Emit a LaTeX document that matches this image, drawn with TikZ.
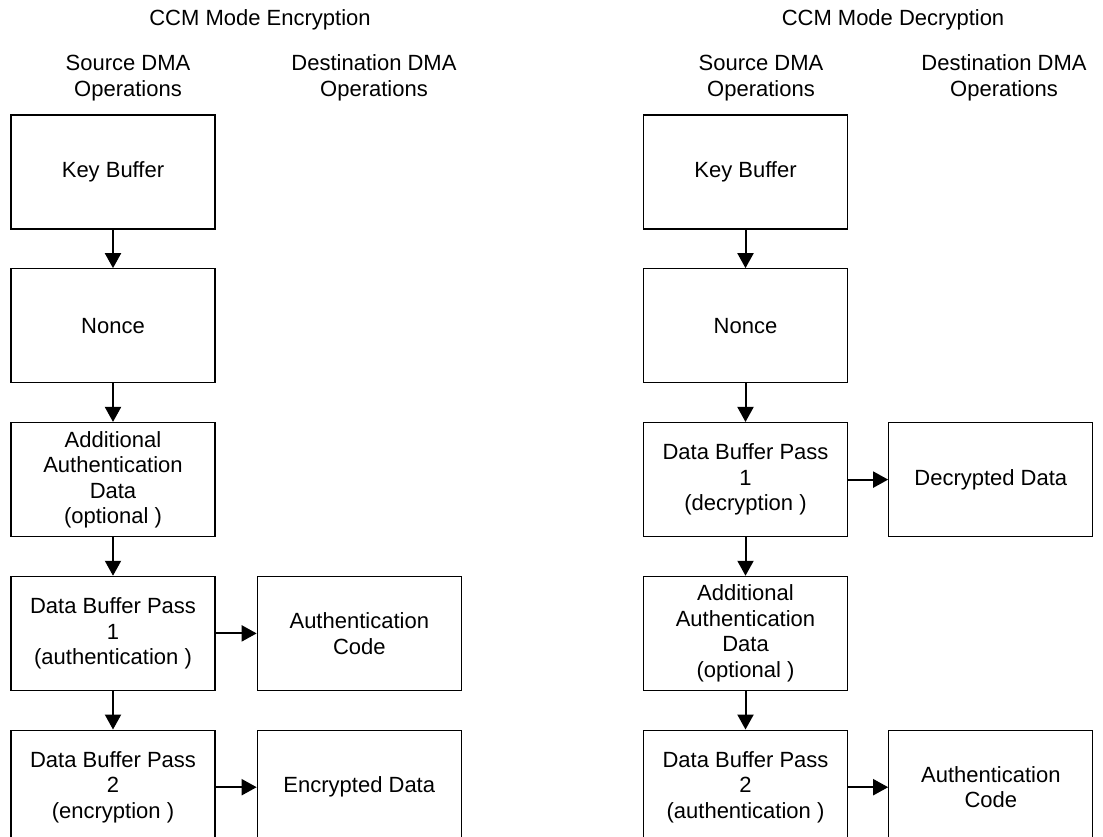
\documentclass[tikz,border=0pt]{standalone}
\usepackage{fontspec}
\setmainfont{Liberation Sans}
\usetikzlibrary{arrows.meta,positioning}

\begin{document}
\begin{tikzpicture}[x=1pt, y=-1pt, every node/.style={font=\fontsize{22}{25.5}\selectfont, align=center}, box/.style={draw, line width=1.3pt, minimum width=204pt, minimum height=114pt, inner sep=0pt}, flow/.style={->, line width=2pt}, >={Triangle[width=16pt,length=15pt]}, node distance=38.5pt]

                \clip (0,0) rectangle (1103,837);

                % encryption
                \node (enctitle) at (260,20) {CCM Mode Encryption};
                \node (esrc)     at (128,78) {Source DMA\\Operations};
                \node (edst)     at (374,78) {Destination DMA\\Operations};

                \node[box] (kb) at (113,172) {Key Buffer};
                \node[box, below=of kb]    (nonce) {Nonce};
                \node[box, below=of nonce] (aad)   {Additional\\Authentication\\Data\\(optional )};
                \node[box, below=of aad]   (pass1) {Data Buffer Pass\\1\\(authentication )};
                \node[box, below=of pass1] (pass2) {Data Buffer Pass\\2\\(encryption )};
                \node[box, right=41pt of pass1] (authc) {Authentication\\Code};
                \node[box, right=41pt of pass2] (encd)  {Encrypted Data};

                \draw[flow] (kb)    -- (nonce);
                \draw[flow] (nonce) -- (aad);
                \draw[flow] (aad)   -- (pass1);
                \draw[flow] (pass1) -- (pass2);
                \draw[flow] (pass1) -- (authc);
                \draw[flow] (pass2) -- (encd);

                % decryption
                \node (dectitle) at (893,20)  {CCM Mode Decryption};
                \node (dsrc)     at (761,78)  {Source DMA\\Operations};
                \node (ddst)     at (1004,78) {Destination DMA\\Operations};

                \node[box] (dkb) at (745.5,172) {Key Buffer};
                \node[box, below=of dkb]    (dnonce) {Nonce};
                \node[box, below=of dnonce] (dpass1) {Data Buffer Pass\\1\\(decryption )};
                \node[box, below=of dpass1] (daad)   {Additional\\Authentication\\Data\\(optional )};
                \node[box, below=of daad]   (dpass2) {Data Buffer Pass\\2\\(authentication )};
                \node[box, right=40pt of dpass1] (ddec)  {Decrypted Data};
                \node[box, right=40pt of dpass2] (dauth) {Authentication\\Code};

                \draw[flow] (dkb)    -- (dnonce);
                \draw[flow] (dnonce) -- (dpass1);
                \draw[flow] (dpass1) -- (daad);
                \draw[flow] (daad)   -- (dpass2);
                \draw[flow] (dpass1) -- (ddec);
                \draw[flow] (dpass2) -- (dauth);
            \end{tikzpicture}
\end{document}
